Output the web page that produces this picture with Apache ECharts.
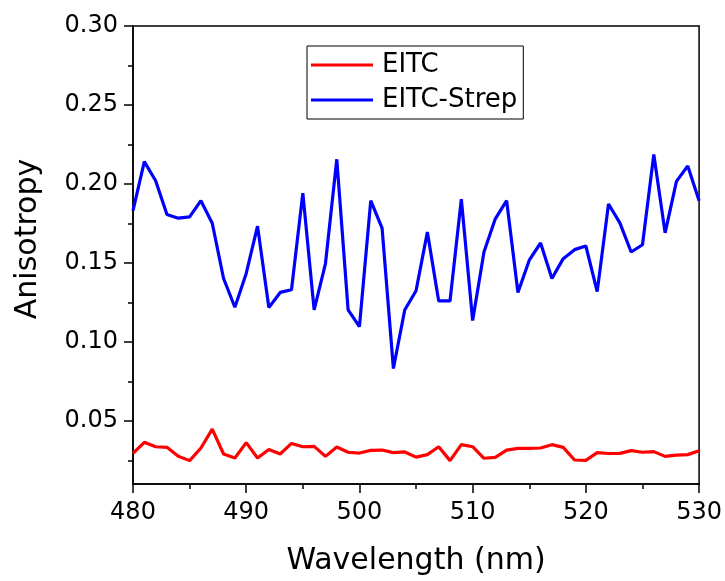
<!DOCTYPE html>
<html>
<head>
<meta charset="utf-8">
<script src="https://cdn.jsdelivr.net/npm/echarts@6/dist/echarts.min.js"></script>
<style>
  html, body { margin: 0; padding: 0; background: #fff; }
  #chart { width: 725px; height: 581px; }
</style>
</head>
<body>
<div id="chart"></div>
<script>
// Emission wavelength (nm)
const wavelength = [
  480, 481, 482, 483, 484, 485, 486, 487, 488, 489,
  490, 491, 492, 493, 494, 495, 496, 497, 498, 499,
  500, 501, 502, 503, 504, 505, 506, 507, 508, 509,
  510, 511, 512, 513, 514, 515, 516, 517, 518, 519,
  520, 521, 522, 523, 524, 525, 526, 527, 528, 529, 530
];

// Fluorescence anisotropy of free EITC
const eitc = [
  0.0294, 0.0364, 0.0336, 0.0332, 0.0275, 0.0248, 0.0328, 0.0447, 0.0290, 0.0265,
  0.0362, 0.0265, 0.0318, 0.0290, 0.0357, 0.0336, 0.0338, 0.0275, 0.0334, 0.0301,
  0.0296, 0.0313, 0.0315, 0.0299, 0.0303, 0.0270, 0.0286, 0.0336, 0.0248, 0.0349,
  0.0336, 0.0263, 0.0269, 0.0315, 0.0326, 0.0326, 0.0328, 0.0349, 0.0332, 0.0252,
  0.0250, 0.0299, 0.0293, 0.0294, 0.0311, 0.0301, 0.0305, 0.0275, 0.0283, 0.0286, 0.0311
];

// Fluorescence anisotropy of EITC bound to streptavidin
const eitcStrep = [
  0.1831, 0.2141, 0.2020, 0.1806, 0.1783, 0.1791, 0.1894, 0.1751, 0.1401, 0.1219,
  0.1433, 0.1733, 0.1217, 0.1313, 0.1330, 0.1942, 0.1202, 0.1496, 0.2156, 0.1202,
  0.1097, 0.1894, 0.1720, 0.0831, 0.1202, 0.1324, 0.1695, 0.1259, 0.1259, 0.1904,
  0.1135, 0.1569, 0.1779, 0.1894, 0.1313, 0.1517, 0.1626, 0.1401, 0.1527, 0.1584,
  0.1607, 0.1318, 0.1873, 0.1753, 0.1569, 0.1615, 0.2187, 0.1690, 0.2016, 0.2114, 0.1894
];

// Y axis: labelled major ticks and unlabelled minor ticks
const yMajorTicks = [0.05, 0.10, 0.15, 0.20, 0.25, 0.30];
const yMinorTicks = [0.025, 0.075, 0.125, 0.175, 0.225, 0.275];

const FONT = 'DejaVu Sans';
const BLACK = '#000';

const pairs = (ys) => wavelength.map((w, i) => [w, ys[i]]);

const chart = echarts.init(document.getElementById('chart'), null, { renderer: 'canvas' });

chart.setOption({
  backgroundColor: '#fff',
  animation: false,
  grid: {
    left: 133, right: 25, top: 26, bottom: 95,
    show: true, borderColor: BLACK, borderWidth: 1.5, backgroundColor: 'transparent'
  },
  legend: {
    orient: 'vertical',
    left: 307, top: 46,
    padding: [6, 6, 6, 4],
    itemGap: 9,
    itemWidth: 62,
    itemHeight: 3,
    icon: 'rect',
    borderColor: BLACK,
    borderWidth: 1,
    backgroundColor: '#fff',
    textStyle: { fontFamily: FONT, fontSize: 26, color: BLACK, lineHeight: 26, padding: [0, 0, 0, 4] },
    data: ['EITC', 'EITC-Strep']
  },
  xAxis: {
    type: 'value',
    min: 480, max: 530, interval: 10,
    axisLine: { show: true, onZero: false, lineStyle: { color: BLACK, width: 1.5 } },
    axisTick: { show: true, inside: false, length: 9, lineStyle: { color: BLACK, width: 1.5 } },
    minorTick: { show: true, splitNumber: 2, length: 5, lineStyle: { color: BLACK, width: 1.5 } },
    splitLine: { show: false },
    minorSplitLine: { show: false },
    axisLabel: { color: BLACK, fontFamily: FONT, fontSize: 24, margin: 17 },
    name: 'Wavelength (nm)',
    nameLocation: 'middle',
    nameGap: 62,
    nameTextStyle: { color: BLACK, fontFamily: FONT, fontSize: 30 }
  },
  yAxis: [
    {
      type: 'value',
      min: 0.01, max: 0.30,
      axisLine: { show: true, onZero: false, lineStyle: { color: BLACK, width: 1.5 } },
      axisTick: { show: true, inside: false, length: 9, customValues: yMajorTicks, lineStyle: { color: BLACK, width: 1.5 } },
      splitLine: { show: false },
      axisLabel: {
        color: BLACK, fontFamily: FONT, fontSize: 24, margin: 15,
        customValues: yMajorTicks,
        formatter: (v) => v.toFixed(2)
      },
      name: 'Anisotropy',
      nameLocation: 'middle',
      nameGap: 90,
      nameTextStyle: { color: BLACK, fontFamily: FONT, fontSize: 30, padding: [0, 0, 0, 32] }
    },
    {
      type: 'value',
      min: 0.01, max: 0.30,
      position: 'left',
      axisLine: { show: false },
      axisTick: { show: true, inside: false, length: 5, customValues: yMinorTicks, lineStyle: { color: BLACK, width: 1.5 } },
      axisLabel: { show: false },
      splitLine: { show: false }
    }
  ],
  series: [
    {
      name: 'EITC',
      type: 'line',
      data: pairs(eitc),
      symbol: 'none',
      showSymbol: false,
      lineStyle: { color: '#ff0000', width: 3.2 },
      itemStyle: { color: '#ff0000' },
      clip: true
    },
    {
      name: 'EITC-Strep',
      type: 'line',
      data: pairs(eitcStrep),
      symbol: 'none',
      showSymbol: false,
      lineStyle: { color: '#0000ff', width: 3.2 },
      itemStyle: { color: '#0000ff' },
      clip: true
    }
  ]
});
</script>
</body>
</html>
